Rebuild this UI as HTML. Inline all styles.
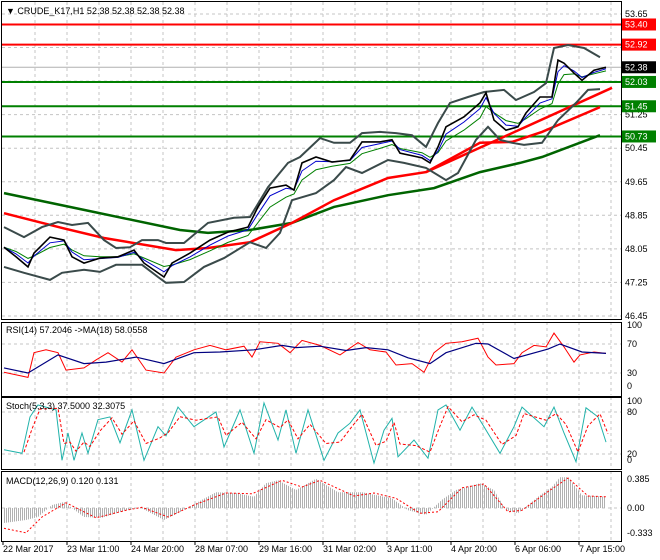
<!DOCTYPE html>
<html><head><meta charset="utf-8"><style>
html,body{margin:0;padding:0;background:#fff;}
svg{display:block;font-family:"Liberation Sans",sans-serif;font-size:9px;}
</style></head><body>
<svg id="chart" width="660" height="560" viewBox="0 0 660 560">
<defs><pattern id="vstripes" width="2" height="4" patternUnits="userSpaceOnUse"><rect x="0" y="0" width="1" height="4" fill="#b0b0b0"/></pattern></defs>
<g id="grid"></g>
<g id="main"></g>
<g id="rsi"></g>
<g id="stoch"></g>
<g id="macd"></g>
<g id="axes"></g>
</svg>
<script>
// ---- data (bar index = hourly bar) ----
const closeBars=[1,7,13,16,24,31,35,41,49,58,66,71,81,85,94,104,113,123,128,134,142,146,150,157,165,174,180,189,195,199,210,214,218,222,231,239,242,246,252,258,262,269,275,278,281,286,290,296,302];
const closeVals=[48.09,47.86,47.62,47.95,48.33,48.26,47.86,47.71,47.83,47.86,48.02,47.71,47.38,47.71,47.95,48.26,48.45,48.57,49.05,49.50,49.57,49.45,50.10,50.24,50.12,50.17,50.60,50.60,50.65,50.33,50.22,50.10,50.48,50.96,51.20,51.53,51.77,51.12,50.88,50.96,51.29,51.67,51.67,52.55,52.48,52.24,52.07,52.31,52.38];
const ma200Bars=[1,41,89,103,124,145,166,193,216,239,259,270,299];
const ma200Vals=[49.38,48.98,48.50,48.43,48.50,48.67,49.05,49.33,49.50,49.88,50.10,50.24,50.76];
const ma100Bars=[1,30,51,87,103,124,145,166,193,212,239,255,270,299];
const ma100Vals=[48.90,48.55,48.31,48.02,48.07,48.21,48.67,49.21,49.74,49.88,50.58,50.60,50.84,51.43];
const trendBars=[212,305];
const trendVals=[49.88,51.89];
const bbUpBars=[1,11,20,28,35,43,51,57,64,70,78,82,91,103,116,124,133,143,149,159,166,174,180,189,197,205,212,218,224,233,241,251,257,266,272,276,283,291,299];
const bbUpVals=[48.57,48.33,48.57,48.69,48.62,48.67,48.26,48.07,48.09,48.26,48.26,48.19,48.19,48.67,48.79,48.81,49.52,50.10,50.24,50.69,50.58,50.58,50.81,50.84,50.81,50.76,50.48,51.05,51.53,51.67,51.79,51.84,51.60,51.79,52.00,52.84,52.91,52.84,52.62];
const bbLoBars=[1,11,24,30,41,49,57,70,78,82,91,101,111,124,132,139,145,157,166,172,180,193,201,212,222,228,237,243,249,255,261,270,278,287,293,299];
const bbLoVals=[47.62,47.48,47.31,47.48,47.55,47.50,47.67,47.67,47.38,47.24,47.26,47.62,47.83,48.21,48.07,48.43,49.21,49.38,49.69,50.00,49.86,50.17,50.10,49.98,49.69,49.86,50.65,50.96,50.65,50.58,50.53,50.58,51.12,51.53,51.84,51.86];
const redLevels=[53.40,52.92];
const greenLevels=[52.03,51.45,50.73];
const lastPrice=52.38;
const priceTicks=[53.65,52.85,52.05,51.25,50.45,49.65,48.85,48.05,47.25,46.45];
const rsiBars=[1,8,13,16,22,28,32,41,47,53,60,65,72,81,87,96,104,112,121,125,129,138,144,150,159,169,178,184,192,197,205,211,216,222,230,238,243,247,256,260,266,272,276,281,286,289,296,302];
const rsiVals=[31,27,24,58,62,58,34,37,48,58,45,62,34,30,52,62,68,62,67,52,73,71,58,75,68,55,72,62,59,41,43,31,58,71,73,78,52,41,43,58,68,66,85,66,45,55,59,57];
const rsiMaBars=[1,13,28,41,52,67,81,96,109,126,140,147,159,172,182,193,203,214,222,237,243,256,273,279,290,302];
const rsiMaVals=[37,30,55,43,45,52,43,58,59,62,68,65,67,61,65,62,51,43,58,71,70,50,63,70,59,57];
const stBars=[1,10,14,18,27,30,33,36,40,43,48,54,59,65,71,78,82,88,96,107,111,119,126,131,138,142,147,153,161,168,174,179,186,191,195,198,206,213,218,222,229,235,241,249,256,260,271,276,281,287,292,298,302];
const stVals=[26,21,73,90,83,11,50,11,50,21,69,73,36,83,11,59,46,87,59,80,30,83,21,93,40,83,21,83,11,50,64,83,7,54,71,16,40,14,83,90,54,87,59,21,59,87,59,87,50,9,86,73,37];
const histBars=[1,12,18,25,31,41,50,62,69,81,88,98,107,117,126,132,138,147,157,168,180,195,203,212,220,227,239,246,252,258,269,275,279,283,290,302];
const histVals=[-0.2,-0.16,-0.12,0.04,0.08,-0.12,-0.13,-0.03,0.01,-0.16,-0.07,0.08,0.21,0.20,0.15,0.33,0.37,0.24,0.39,0.21,0.21,0.13,-0.03,-0.09,0.11,0.24,0.33,0.24,-0.03,-0.07,0.17,0.28,0.41,0.41,0.17,0.15];
const sigBars=[1,12,20,32,47,62,70,83,96,112,125,140,150,159,176,186,197,209,218,230,241,253,260,272,283,293,302];
const sigVals=[-0.27,-0.33,-0.12,0.07,-0.13,-0.03,0.01,-0.12,0.04,0.20,0.19,0.37,0.28,0.37,0.16,0.20,0.13,-0.07,-0.05,0.27,0.32,-0.05,-0.03,0.20,0.40,0.16,0.15];
const timeLabels=["22 Mar 2017","23 Mar 11:00","24 Mar 20:00","28 Mar 07:00","29 Mar 16:00","31 Mar 02:00","3 Apr 11:00","4 Apr 20:00","6 Apr 06:00","7 Apr 15:00"];

// ---- scales ----
const R=621;
const X=b=>2+b*2;
const YP=p=>14+(53.65-p)*41.94;
const YR=v=>344-(v-70)*0.725;
const YS=v=>412-(v-80)*0.7;
const YM=v=>508-v*75;
const NS="http://www.w3.org/2000/svg";
function mk(tag,attrs,parent){const e=document.createElementNS(NS,tag);for(const k in attrs)e.setAttribute(k,attrs[k]);parent.appendChild(e);return e;}
function pts(bars,vals,ys){return bars.map((b,i)=>X(b).toFixed(1)+","+ys(vals[i]).toFixed(1)).join(" ");}
const G=id=>document.getElementById(id);

// grid
const grid=G('grid');
for(let k=1;k<=19;k++){const x=3+32*k;if(x>=R)break;
 for(const [a,b] of [[2,318],[322,395],[397,469],[471,540]]){
  const l=mk('line',{x1:x,x2:x,y1:a,y2:b,stroke:'#c4c4c4','stroke-dasharray':'3,3','stroke-width':1},grid);
  }}
priceTicks.forEach(p=>{const l=mk('line',{x1:2,x2:R,y1:YP(p),y2:YP(p),stroke:'#c4c4c4','stroke-dasharray':'3,3'},grid);
 });
[[YR(70)],[YR(30)],[YS(80)],[YS(20)],[YM(0)]].forEach(([y])=>{const l=mk('line',{x1:2,x2:R,y1:y,y2:y,stroke:'#c4c4c4','stroke-dasharray':'3,3'},grid);
 });

// main panel
const m=G('main');
redLevels.forEach(p=>{const l=mk('line',{x1:2,x2:R,y1:YP(p),y2:YP(p),stroke:'#ff0000','stroke-width':2},m);
 });
greenLevels.forEach(p=>{const l=mk('line',{x1:2,x2:R,y1:YP(p),y2:YP(p),stroke:'#008000','stroke-width':2},m);
 });
let e=mk('line',{x1:2,x2:R,y1:YP(lastPrice),y2:YP(lastPrice),stroke:'#b0b0b0','stroke-width':1},m);

e=mk('polyline',{points:pts(ma200Bars,ma200Vals,YP),fill:'none',stroke:'#006400','stroke-width':2.5},m);

e=mk('polyline',{points:pts(ma100Bars,ma100Vals,YP),fill:'none',stroke:'#ff0000','stroke-width':2.5},m);

e=mk('polyline',{points:pts(trendBars,trendVals,YP),fill:'none',stroke:'#ff0000','stroke-width':2.5},m);

e=mk('polyline',{points:pts(bbUpBars,bbUpVals,YP),fill:'none',stroke:'#3a4a4a','stroke-width':2},m);

e=mk('polyline',{points:pts(bbLoBars,bbLoVals,YP),fill:'none',stroke:'#3a4a4a','stroke-width':2},m);

function ema(v,k){const o=[];v.forEach((x,i)=>o.push(i?o[i-1]+k*(x-o[i-1]):x));return o;}
e=mk('polyline',{points:pts(closeBars,ema(closeVals,0.45),YP),fill:'none',stroke:'#008000','stroke-width':1},m);

e=mk('polyline',{points:pts(closeBars,ema(closeVals,0.7),YP),fill:'none',stroke:'#0000cc','stroke-width':1},m);

e=mk('polyline',{points:pts(closeBars,closeVals,YP),fill:'none',stroke:'#000','stroke-width':1.6},m);

e=mk('text',{x:6,y:14,fill:'#000'},m);e.textContent='▼ CRUDE_K17,H1  52.38 52.38 52.38 52.38';


// RSI
const r=G('rsi');
e=mk('polyline',{points:pts(rsiBars,rsiVals,YR),fill:'none',stroke:'#ff0000','stroke-width':1},r);

e=mk('polyline',{points:pts(rsiMaBars,rsiMaVals,YR),fill:'none',stroke:'#000080','stroke-width':1.2},r);

e=mk('text',{x:6,y:333,fill:'#000'},r);e.textContent='RSI(14) 57.2046  ->MA(18) 58.0558';


// Stoch
const s=G('stoch');
const sigB=[],sigV=[];for(let i=1;i<stVals.length;i++){sigB.push(stBars[i]+1);sigV.push((stVals[i]*2+stVals[i-1])/3);}
e=mk('polyline',{points:pts(stBars,stVals,YS),fill:'none',stroke:'#20b2aa','stroke-width':1},s);

e=mk('polyline',{points:pts(sigB,sigV,YS),fill:'none',stroke:'#ff0000','stroke-width':1,'stroke-dasharray':'3,2'},s);

e=mk('text',{x:6,y:409,fill:'#000'},s);e.textContent='Stoch(5,3,3) 37.5000 32.3075';


// MACD
const c=G('macd');
const area=X(histBars[0])+","+YM(0)+" "+pts(histBars,histVals,YM)+" "+X(histBars[histBars.length-1])+","+YM(0);
e=mk('polygon',{points:area,fill:'url(#vstripes)'},c);

e=mk('polyline',{points:pts(sigBars,sigVals,YM),fill:'none',stroke:'#ff0000','stroke-width':1,'stroke-dasharray':'2,2'},c);

e=mk('text',{x:6,y:484,fill:'#000'},c);e.textContent='MACD(12,26,9) 0.120 0.131';


// axes, frames, labels
const ax=G('axes');
[[1,1,R-1,318],[1,322,R-1,74],[1,397,R-1,72],[1,471,R-1,70]].forEach(([x,y,w,h])=>{
 const f=mk('rect',{x:x+0.5,y:y+0.5,width:w,height:h,fill:'none',stroke:'#000'},ax);
 });
priceTicks.forEach(p=>{const t=mk('text',{x:625,y:YP(p)+3,fill:'#000'},ax);t.textContent=p.toFixed(2);
 });
function box(p,bg,fg){const g=mk('g',{},ax);
 mk('rect',{x:622,y:YP(p)-6,width:34,height:12,fill:bg},g);const t=mk('text',{x:625,y:YP(p)+3,fill:fg},g);t.textContent=p.toFixed(2);}
redLevels.forEach(p=>box(p,'#ff0000','#fff'));greenLevels.forEach(p=>box(p,'#008000','#fff'));box(lastPrice,'#000','#fff');
[['100',328],['70',YR(70)+3],['30',YR(30)+3],['0',389],['100',404],['80',YS(80)+3],['20',YS(20)+3],['0',463],['0.385',YM(0.385)+3],['0.00',YM(0)+3],['-0.333',YM(-0.333)+3]].forEach(([s2,y])=>{
 const t=mk('text',{x:627,y:y,fill:'#000'},ax);t.textContent=s2;});
timeLabels.forEach((s2,i)=>{const x=3+64*i;const t=mk('text',{x:x,y:552,fill:'#000'},ax);t.textContent=s2;
 
 const k=mk('line',{x1:x,x2:x,y1:541,y2:545,stroke:'#000'},ax);});
</script>
</body></html>
